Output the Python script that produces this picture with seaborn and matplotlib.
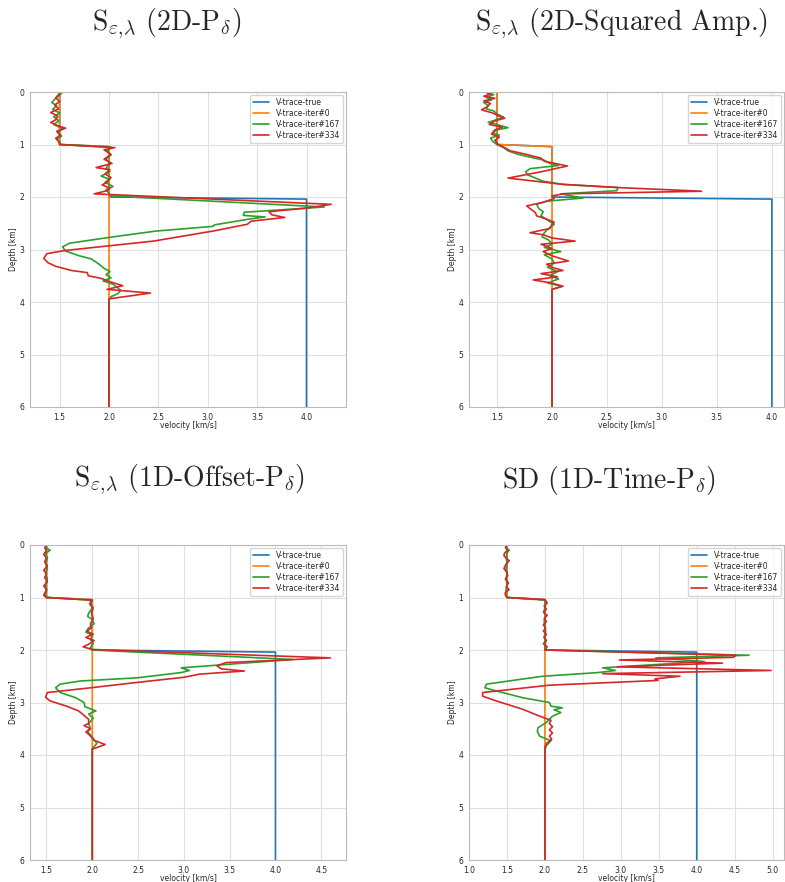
import matplotlib
matplotlib.use("Agg")
import matplotlib.pyplot as plt
import seaborn as sns

# step profiles shared by all panels
true_depth = [0.0, 1.0, 1.04, 2.0, 2.04, 6.0]
true_vel = [1.5, 1.5, 2.0, 2.0, 4.0, 4.0]
init_depth = [0.0, 1.0, 1.04, 6.0]
init_vel = [1.5, 1.5, 2.0, 2.0]

# panel 1: S (2D-P_delta)
p1_green_depth = [0.00, 0.06, 0.12, 0.20, 0.26, 0.33, 0.40, 0.47, 0.55, 0.62, 0.70, 0.77, 0.84, 0.90, 0.96, 1.00,
                  1.05, 1.12, 1.20, 1.28, 1.36, 1.45, 1.52, 1.60, 1.66, 1.72, 1.80, 1.86, 1.93, 1.98,
                  2.19, 2.29, 2.35, 2.38, 2.42, 2.53, 2.56, 2.65, 2.77, 2.88, 2.95, 3.03, 3.12, 3.18, 3.28,
                  3.36, 3.42, 3.48, 3.54, 3.60, 3.66, 3.78, 3.84, 3.90, 3.96, 6.00]
p1_green_vel = [1.53, 1.50, 1.46, 1.42, 1.47, 1.43, 1.50, 1.44, 1.49, 1.44, 1.53, 1.48, 1.52, 1.47, 1.50, 1.50,
                2.02, 1.98, 2.02, 1.97, 2.01, 1.97, 2.01, 1.92, 2.00, 1.96, 2.04, 1.97, 2.00, 2.02,
                4.18, 3.37, 3.36, 3.58, 3.42, 3.07, 3.05, 2.47, 2.00, 1.60, 1.53, 1.56, 1.70, 1.82, 1.90,
                1.95, 2.01, 1.97, 2.02, 1.94, 2.04, 2.12, 2.09, 2.02, 2.00, 2.00]
p1_red_depth = [0.00, 0.05, 0.11, 0.18, 0.25, 0.32, 0.39, 0.46, 0.53, 0.58, 0.64, 0.69, 0.75, 0.82, 0.88, 0.94, 1.00,
                1.06, 1.10, 1.19, 1.28, 1.36, 1.44, 1.48, 1.56, 1.63, 1.72, 1.77, 1.83, 1.88, 1.94,
                2.14, 2.21, 2.28, 2.34, 2.39, 2.46, 2.52, 2.65, 2.84, 2.93, 3.02, 3.08, 3.17, 3.25, 3.32,
                3.40, 3.44, 3.50, 3.55, 3.62, 3.69, 3.76, 3.83, 3.94, 6.00]
p1_red_vel = [1.51, 1.49, 1.46, 1.50, 1.45, 1.49, 1.41, 1.48, 1.46, 1.41, 1.48, 1.56, 1.47, 1.51, 1.46, 1.49, 1.50,
              2.06, 1.95, 2.02, 1.95, 2.03, 1.87, 2.01, 1.96, 2.02, 1.98, 1.93, 2.01, 1.98, 1.85,
              4.25, 4.01, 3.62, 3.65, 3.78, 3.44, 3.40, 3.05, 2.45, 2.00, 1.55, 1.37, 1.34, 1.38, 1.46,
              1.62, 1.78, 1.79, 1.92, 2.02, 2.14, 1.98, 2.42, 2.00, 2.00]

# panel 2: S (2D-Squared Amp.)
p2_green_depth = [0.00, 0.05, 0.10, 0.15, 0.20, 0.26, 0.32, 0.36, 0.42, 0.48, 0.53, 0.58, 0.62, 0.68, 0.72, 0.78,
                  0.82, 0.88, 0.94, 1.00, 1.06, 1.12, 1.18, 1.24, 1.30, 1.36, 1.40, 1.46, 1.52, 1.58, 1.64,
                  1.70, 1.76, 1.82, 1.88, 1.94, 2.02, 2.08, 2.14, 2.22, 2.28, 2.36, 2.44, 2.52, 2.60, 2.68,
                  2.76, 2.82, 2.90, 2.96, 3.04, 3.10, 3.18, 3.26, 3.34, 3.42, 3.50, 3.56, 3.64, 3.70, 3.76, 6.00]
p2_green_vel = [1.40, 1.47, 1.40, 1.45, 1.38, 1.42, 1.40, 1.47, 1.50, 1.56, 1.49, 1.42, 1.50, 1.60, 1.50, 1.46,
                1.52, 1.44, 1.46, 1.50, 1.56, 1.60, 1.68, 1.80, 1.93, 1.98, 2.06, 1.80, 1.76, 1.78, 1.85,
                1.92, 2.10, 2.60, 2.59, 2.08, 2.28, 1.95, 1.86, 1.88, 1.92, 1.90, 1.96, 2.02, 1.97, 1.93,
                1.91, 1.97, 2.00, 1.93, 2.08, 1.93, 2.00, 2.02, 1.96, 2.05, 1.98, 2.06, 1.96, 2.09, 2.00, 2.00]
p2_red_depth = [0.00, 0.04, 0.08, 0.12, 0.17, 0.22, 0.28, 0.34, 0.40, 0.46, 0.50, 0.55, 0.62, 0.67, 0.72, 0.80,
                0.86, 0.92, 1.00, 1.06, 1.12, 1.18, 1.26, 1.32, 1.37, 1.41, 1.45, 1.52, 1.58, 1.64, 1.70,
                1.76, 1.82, 1.89, 1.94, 1.98, 2.03, 2.10, 2.17, 2.22, 2.30, 2.36, 2.42, 2.48, 2.52, 2.60,
                2.68, 2.72, 2.78, 2.84, 2.90, 2.98, 3.04, 3.12, 3.22, 3.28, 3.34, 3.40, 3.46, 3.52, 3.58,
                3.64, 3.70, 3.76, 6.00]
p2_red_vel = [1.39, 1.44, 1.38, 1.48, 1.38, 1.44, 1.41, 1.36, 1.46, 1.52, 1.57, 1.48, 1.43, 1.55, 1.48, 1.45,
              1.52, 1.48, 1.51, 1.57, 1.62, 1.75, 1.90, 1.93, 2.05, 2.14, 2.05, 1.90, 1.75, 1.60, 1.85,
              2.10, 2.60, 3.36, 2.10, 2.00, 2.02, 1.92, 1.77, 1.80, 1.85, 1.86, 1.95, 2.02, 2.00, 1.98,
              1.80, 1.92, 2.00, 2.21, 1.90, 2.00, 1.92, 2.00, 2.15, 1.95, 2.00, 2.10, 1.90, 2.05, 1.83,
              2.00, 2.10, 2.00, 2.00]

# panel 3: S (1D-Offset-P_delta)
p3_green_depth = [0.00, 0.06, 0.10, 0.16, 0.25, 0.35, 0.45, 0.55, 0.65, 0.75, 0.85, 0.95, 1.00,
                  1.05, 1.12, 1.20, 1.30, 1.36, 1.42, 1.50, 1.58, 1.66, 1.72, 1.80, 1.88, 1.95, 2.00,
                  2.18, 2.34, 2.39, 2.43, 2.53, 2.59, 2.65, 2.72, 2.81, 2.91, 3.00, 3.08, 3.16, 3.22,
                  3.30, 3.40, 3.50, 3.56, 3.66, 3.78, 3.88, 6.00]
p3_green_vel = [1.50, 1.50, 1.54, 1.49, 1.51, 1.49, 1.51, 1.49, 1.51, 1.49, 1.50, 1.49, 1.50,
                1.99, 1.97, 2.00, 1.96, 1.95, 2.00, 2.02, 1.96, 1.93, 2.00, 1.98, 2.01, 1.98, 2.00,
                4.19, 2.97, 3.06, 2.97, 2.49, 1.87, 1.65, 1.60, 1.65, 1.82, 1.91, 1.92, 2.04, 1.96,
                2.01, 1.96, 1.98, 1.95, 2.00, 2.05, 2.00, 2.00]
p3_red_depth = [0.00, 0.05, 0.10, 0.18, 0.25, 0.32, 0.40, 0.48, 0.55, 0.62, 0.70, 0.78, 0.85, 0.92, 0.96, 1.00,
                1.05, 1.12, 1.20, 1.30, 1.40, 1.50, 1.58, 1.64, 1.70, 1.76, 1.82, 1.88, 1.94, 1.99,
                2.15, 2.24, 2.30, 2.36, 2.40, 2.46, 2.52, 2.60, 2.72, 2.81, 2.90, 2.97, 3.07, 3.16, 3.23,
                3.32, 3.40, 3.44, 3.50, 3.56, 3.62, 3.72, 3.80, 3.89, 6.00]
p3_red_vel = [1.50, 1.48, 1.50, 1.47, 1.50, 1.48, 1.51, 1.47, 1.50, 1.48, 1.51, 1.47, 1.50, 1.48, 1.47, 1.50,
              2.00, 1.98, 2.01, 1.99, 2.01, 1.98, 1.99, 1.94, 2.01, 1.93, 2.02, 1.97, 1.90, 2.00,
              4.60, 3.46, 3.36, 3.41, 3.66, 3.17, 3.00, 2.58, 1.98, 1.51, 1.49, 1.54, 1.72, 1.85, 1.90,
              1.96, 1.96, 1.91, 1.98, 1.93, 1.97, 2.02, 2.14, 2.00, 2.00]

# panel 4: SD (1D-Time-P_delta)
p4_green_depth = [0.00, 0.06, 0.10, 0.15, 0.25, 0.35, 0.45, 0.55, 0.65, 0.75, 0.85, 0.95, 1.00,
                  1.05, 1.15, 1.25, 1.35, 1.45, 1.55, 1.65, 1.75, 1.85, 1.95, 2.00,
                  2.10, 2.15, 2.22, 2.34, 2.39, 2.43, 2.50, 2.65, 2.72, 2.78, 2.91, 3.00, 3.07, 3.10,
                  3.14, 3.19, 3.26, 3.38, 3.48, 3.55, 3.64, 3.73, 3.82, 3.90, 6.00]
p4_green_vel = [1.50, 1.49, 1.53, 1.50, 1.49, 1.50, 1.49, 1.50, 1.49, 1.50, 1.49, 1.48, 1.50,
                2.00, 2.01, 1.99, 2.01, 1.99, 2.00, 2.01, 1.99, 2.01, 2.00, 2.00,
                4.69, 3.46, 4.10, 2.76, 2.93, 2.70, 1.97, 1.23, 1.21, 1.36, 1.71, 2.06, 2.08, 2.23,
                2.12, 2.21, 2.10, 2.02, 1.91, 1.90, 1.93, 2.08, 2.02, 2.00, 2.00]
p4_red_depth = [0.00, 0.05, 0.10, 0.15, 0.20, 0.25, 0.30, 0.36, 0.45, 0.50, 0.58, 0.65, 0.72, 0.80, 0.85, 0.90,
                0.95, 1.00, 1.04, 1.10, 1.16, 1.22, 1.28, 1.34, 1.40, 1.46, 1.52, 1.58, 1.64, 1.70, 1.76,
                1.82, 1.88, 1.94, 2.00, 2.10, 2.14, 2.19, 2.25, 2.32, 2.39, 2.45, 2.50, 2.55, 2.58, 2.67,
                2.81, 2.88, 2.97, 3.13, 3.26, 3.34, 3.40, 3.46, 3.52, 3.58, 3.64, 3.70, 3.78, 3.86, 6.00]
p4_red_vel = [1.50, 1.48, 1.51, 1.47, 1.46, 1.49, 1.53, 1.49, 1.46, 1.49, 1.51, 1.48, 1.52, 1.49, 1.53, 1.48,
              1.48, 1.50, 2.00, 2.03, 1.99, 2.02, 1.98, 2.03, 1.99, 2.02, 1.98, 2.01, 1.98, 2.02, 1.99,
              2.02, 1.98, 2.03, 2.00, 4.52, 4.48, 2.98, 4.34, 2.95, 4.98, 2.76, 3.78, 3.45, 3.49, 2.06,
              1.18, 1.18, 1.36, 1.71, 1.93, 2.08, 2.06, 2.10, 2.06, 2.10, 2.06, 2.09, 2.02, 2.00, 2.00]

titles = [r"S$_{\varepsilon{,}\lambda}$ (2D-P$_\delta$)",
          r"S$_{\varepsilon{,}\lambda}$ (2D-Squared Amp.)",
          r"S$_{\varepsilon{,}\lambda}$ (1D-Offset-P$_\delta$)",
          r"SD (1D-Time-P$_\delta$)"]
labels = ["V-trace-true", "V-trace-iter#0", "V-trace-iter#167", "V-trace-iter#334"]
colors = ["#1f77b4", "#ff7f0e", "#2ca02c", "#d62728"]

panels = [
    (p1_green_depth, p1_green_vel, p1_red_depth, p1_red_vel, (1.2, 4.4), [1.5, 2.0, 2.5, 3.0, 3.5, 4.0]),
    (p2_green_depth, p2_green_vel, p2_red_depth, p2_red_vel, (1.245, 4.11), [1.5, 2.0, 2.5, 3.0, 3.5, 4.0]),
    (p3_green_depth, p3_green_vel, p3_red_depth, p3_red_vel, (1.32, 4.77), [1.5, 2.0, 2.5, 3.0, 3.5, 4.0, 4.5]),
    (p4_green_depth, p4_green_vel, p4_red_depth, p4_red_vel, (1.0, 5.15), [1.0, 1.5, 2.0, 2.5, 3.0, 3.5, 4.0, 4.5, 5.0]),
]

sns.set_style("whitegrid")
plt.rcParams['mathtext.fontset'] = 'cm'

W, H = 785, 882
fig = plt.figure(figsize=(W / 100, H / 100), dpi=100)

# axes boxes in pixels: left, top, right, bottom
boxes = [(30, 92, 346, 407), (469, 92, 784, 407), (30, 545, 346, 860), (469, 545, 784, 860)]
title_pos = [(167, 24), (622, 24), (190, 480), (609, 480)]

for i, (gd, gv, rd, rv, xlim, xt) in enumerate(panels):
    l, t, r, b = boxes[i]
    ax = fig.add_axes([l / W, 1 - b / H, (r - l) / W, (b - t) / H])
    series = [(true_depth, true_vel), (init_depth, init_vel), (gd, gv), (rd, rv)]
    for (d, v), lab, c in zip(series, labels, colors):
        sns.lineplot(x=v, y=d, sort=False, estimator=None, color=c, label=lab, lw=1.2, ax=ax)
    ax.set_xlim(*xlim)
    ax.set_ylim(6, 0)
    ax.set_xticks(xt)
    ax.set_yticks(range(7))
    ax.tick_params(labelsize=5.5, pad=0.5)
    ax.set_xlabel("velocity [km/s]", fontsize=5.5, labelpad=-0.5)
    ax.set_ylabel("Depth [km]", fontsize=5.5, labelpad=1)
    ax.grid(color="#e0e0e0", lw=0.8)
    for s in ax.spines.values():
        s.set_color("#bbbbbb")
        s.set_linewidth(0.8)
    ax.legend(loc="upper right", fontsize=5.5, frameon=True, borderaxespad=0.4,
              handlelength=2.2, labelspacing=0.25)
    fig.text(title_pos[i][0] / W, 1 - title_pos[i][1] / H, titles[i], ha="center", va="center",
             fontsize=20, family="cmr10")

fig.savefig("out.png", dpi=100)
